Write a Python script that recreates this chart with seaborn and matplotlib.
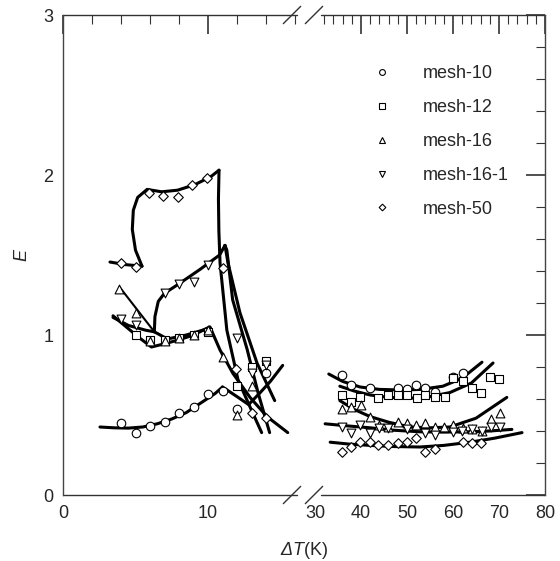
import numpy as np
import pandas as pd
import seaborn as sns
import matplotlib.pyplot as plt
from matplotlib.lines import Line2D

# --- punti sperimentali (x = Delta T in K, y = E) ---
series = ["mesh-10", "mesh-12", "mesh-16", "mesh-16-1", "mesh-50"]
markers = {"mesh-10": "o", "mesh-12": "s", "mesh-16": "^", "mesh-16-1": "v", "mesh-50": "D"}
msize = {"mesh-10": 38, "mesh-12": 26, "mesh-16": 40, "mesh-16-1": 40, "mesh-50": 24}

m10_x = [4.0, 5.0, 6.0, 7.0, 8.0, 9.0, 10.0, 11.0, 12.0, 14.0,
         35.9, 37.8, 42, 48, 50, 52, 53.9, 56.1, 60, 62.2]
m10_y = [0.45, 0.39, 0.43, 0.455, 0.51, 0.55, 0.63, 0.65, 0.54, 0.76,
         0.75, 0.69, 0.67, 0.67, 0.66, 0.69, 0.67, 0.645, 0.74, 0.76]

m12_x = [5.0, 6.0, 7.0, 8.0, 9.0, 10.0, 12.0, 13.0, 14.0,
         35.9, 37.8, 39.8, 43.7, 45.9, 48, 50, 52.2, 53.9, 56.1, 58.3, 60, 62.2, 64.1, 66.1, 68, 70]
m12_y = [1.0, 0.97, 0.97, 0.98, 1.0, 1.02, 0.68, 0.8, 0.84,
         0.625, 0.58, 0.61, 0.605, 0.625, 0.625, 0.625, 0.605, 0.625, 0.615, 0.61, 0.73, 0.71, 0.67, 0.64, 0.74, 0.725]

m16_x = [3.86, 5.0, 6.0, 7.0, 8.0, 9.0, 10.0, 11.0, 12.0, 13.0,
         35.9, 37.8, 40, 42, 44, 45.9, 48, 50, 52, 53.9, 56.1, 58, 60, 62.2, 64.1, 66.3, 68.3, 70.2]
m16_y = [1.29, 1.14, 0.96, 0.96, 0.98, 1.0, 1.03, 0.86, 0.5, 0.68,
         0.54, 0.55, 0.56, 0.49, 0.44, 0.425, 0.455, 0.45, 0.44, 0.45, 0.425, 0.425, 0.44, 0.42, 0.41, 0.4, 0.475, 0.51]

m161_x = [4.0, 5.0, 7.0, 8.0, 9.0, 10.0, 12.0, 13.0, 14.0,
          35.9, 37.8, 39.8, 42, 44, 45.9, 50, 54, 56.1, 60, 62, 64.1, 66.3, 68.3, 70.2]
m161_y = [1.1, 1.06, 1.26, 1.32, 1.33, 1.44, 0.98, 0.76, 0.81,
          0.425, 0.39, 0.44, 0.39, 0.42, 0.42, 0.41, 0.39, 0.375, 0.395, 0.4, 0.41, 0.4, 0.425, 0.425]

m50_x = [4.0, 5.0, 5.93, 6.9, 7.93, 8.9, 9.93, 11.0, 11.9, 13.0, 14.0,
         35.9, 37.8, 39.8, 42, 43.7, 45.9, 48, 50, 52, 53.9, 56.1, 62.2, 64.1, 66.1]
m50_y = [1.45, 1.425, 1.89, 1.87, 1.86, 1.94, 1.98, 1.42, 0.79, 0.51, 0.48,
         0.27, 0.3, 0.33, 0.33, 0.31, 0.31, 0.325, 0.33, 0.355, 0.27, 0.29, 0.33, 0.325, 0.325]

# --- curve (tratti) ---
curves = {
    "c10_a": ([2.55, 3.5, 4.5, 5.5, 6.5, 7.5, 8.5, 9.5, 10.5, 11.0],
              [0.425, 0.42, 0.418, 0.425, 0.445, 0.475, 0.515, 0.575, 0.635, 0.675]),
    "c10_b": ([11.0, 12.0, 12.8, 13.6, 14.3, 15.15],
              [0.675, 0.615, 0.565, 0.64, 0.71, 0.81]),
    "c12_a": ([3.45, 4.5, 5.3, 6.1, 7.0, 8.0, 9.0, 10.1],
              [1.12, 1.04, 0.98, 0.925, 0.945, 0.97, 1.0, 1.05]),
    "c12_b": ([10.14, 10.83, 11.72, 12.9, 14.07, 15.5],
              [1.05, 0.906, 0.76, 0.61, 0.49, 0.39]),
    "c16_b": ([6.3, 7.2, 8.5, 10.0],
              [1.02, 0.975, 1.0, 1.04]),
    "c161_a": ([3.45, 4.5, 5.7, 6.3],
               [1.11, 1.06, 1.03, 1.02]),
    "c161_b": ([6.3, 6.34, 6.57, 6.99, 8.0, 9.45, 10.8, 11.17],
               [1.02, 1.115, 1.21, 1.26, 1.32, 1.41, 1.5, 1.56]),
    "c161_c": ([11.17, 11.3, 11.7, 12.7, 13.45, 14.25],
               [1.56, 1.53, 1.22, 0.91, 0.64, 0.39]),
    "c161_d": ([11.17, 11.38, 12.2, 13.38, 14.6],
               [1.56, 1.45, 1.14, 0.825, 0.59]),
    "c50_a": ([3.24, 4.3, 5.45],
              [1.456, 1.44, 1.43]),
    "c50_b": ([5.45, 5.0, 4.78, 4.85, 5.15, 5.8, 6.8, 7.9, 9.1, 10.2, 10.76],
              [1.43, 1.53, 1.66, 1.78, 1.86, 1.91, 1.895, 1.905, 1.94, 1.99, 2.03]),
    "c50_c": ([10.76, 10.72, 10.75, 10.83, 11.3, 12.07, 12.9, 13.7],
              [2.03, 1.85, 1.65, 1.45, 1.03, 0.72, 0.55, 0.39]),
    "c10_r": ([33.0, 36, 39.8, 44, 49.1, 53, 57.8, 62, 66.3],
              [0.756, 0.71, 0.675, 0.66, 0.656, 0.66, 0.68, 0.73, 0.83]),
    "c12_r": ([35.4, 38.5, 42, 46, 50.7, 55, 59.3, 64, 68.7],
              [0.68, 0.65, 0.625, 0.61, 0.605, 0.615, 0.64, 0.7, 0.825]),
    "c16_r": ([35.4, 38.5, 42, 46, 50.7, 55, 59.3, 65, 71.7],
              [0.59, 0.535, 0.49, 0.455, 0.425, 0.42, 0.425, 0.48, 0.61]),
    "c161_r": ([32.2, 37, 42, 47, 52.8, 58, 63.7, 68, 72.8],
               [0.445, 0.432, 0.42, 0.405, 0.395, 0.393, 0.395, 0.4, 0.41]),
    "c50_r": ([33.3, 37.5, 42, 47, 52.8, 58, 63.7, 69, 75],
              [0.33, 0.318, 0.31, 0.303, 0.3, 0.31, 0.33, 0.355, 0.39]),
}
# tratto sottile di mesh-16
thin_x = [3.9, 6.3]
thin_y = [1.3, 1.02]

x_major = [0, 10, 30, 40, 50, 60, 70, 80]
x_minor = list(range(2, 17, 2)) + list(range(32, 80, 2))


# asse x spezzato: 0-16 largo, 30-80 compresso
def fwd(x):
    x = np.asarray(x, dtype=float)
    return np.where(x <= 16, 14.5 * x,
                    np.where(x < 30, 232 + (x - 16) * (20 / 14), 252 + 4.6 * (x - 30)))


def inv(u):
    u = np.asarray(u, dtype=float)
    return np.where(u <= 232, u / 14.5,
                    np.where(u < 252, 16 + (u - 232) * 14 / 20, 30 + (u - 252) / 4.6))


def main():
    sns.set_theme(style="white")
    plt.rcParams['font.family'] = ['Liberation Sans', 'DejaVu Sans']
    plt.rcParams['mathtext.fontset'] = 'custom'
    plt.rcParams['mathtext.rm'] = 'Liberation Sans'
    plt.rcParams['mathtext.sf'] = 'Liberation Sans:italic'

    fig = plt.figure(figsize=(5.6, 5.61), dpi=100)
    ax = fig.add_axes([63 / 560, 66 / 561, 482 / 560, 480 / 561])
    ax.set_xscale('function', functions=(fwd, inv))

    # curve
    rows = []
    for name, (xs, ys) in curves.items():
        for xv, yv in zip(xs, ys):
            rows.append((name, xv, yv))
    df_c = pd.DataFrame(rows, columns=["seg", "x", "y"])
    sns.lineplot(data=df_c, x="x", y="y", units="seg", estimator=None, sort=False,
                 color="black", linewidth=2.2, ax=ax, legend=False)
    sns.lineplot(x=thin_x, y=thin_y, sort=False, color="black", linewidth=1.5, ax=ax)

    # punti
    pts = {"mesh-10": (m10_x, m10_y), "mesh-12": (m12_x, m12_y), "mesh-16": (m16_x, m16_y),
           "mesh-16-1": (m161_x, m161_y), "mesh-50": (m50_x, m50_y)}
    for s in series:
        xs, ys = pts[s]
        sns.scatterplot(x=xs, y=ys, marker=markers[s], s=msize[s], color="white",
                        edgecolor="black", linewidth=0.8, ax=ax, zorder=3, legend=False)

    ax.set_xlim(0, 80)
    ax.set_ylim(0, 3)
    ax.set_xticks(x_major)
    ax.set_xticks(x_minor, minor=True)
    ax.set_xticklabels([str(v) for v in x_major])
    ax.set_yticks([0, 1, 2, 3])
    ax.set_yticks(np.arange(0.2, 3.0, 0.2), minor=True)
    ax.set_yticklabels(["0", "1", "2", "3"])

    ax.tick_params(which="both", direction="in", top=True, right=True, color="#333",
                   labelsize=13, pad=7)
    ax.tick_params(which="major", length=14, width=1.2)
    ax.tick_params(which="minor", length=6.5, width=0.8)
    t30 = ax.xaxis.get_major_ticks()[2]
    t30.tick1line.set_visible(False)
    t30.tick2line.set_visible(False)

    for side in ["left", "right"]:
        ax.spines[side].set_color("#444")
        ax.spines[side].set_linewidth(1.0)
    ax.spines["top"].set_visible(False)
    ax.spines["bottom"].set_visible(False)

    # assi spezzati con doppia barra
    kw = dict(transform=ax.transAxes, color="#333", lw=1.0, clip_on=False)
    f1, f2, f3 = (297 - 63) / 482, (321 - 63) / 482, 1.0
    for yy in (0, 1):
        ax.plot([0, f1], [yy, yy], **kw)
        ax.plot([f2, f3], [yy, yy], **kw)
        for c in ((292 - 63) / 482, (314 - 63) / 482):
            ax.plot([c - 0.018, c + 0.018], [yy - 0.018, yy + 0.018], **kw)

    ax.set_xlabel(r"$\mathsf{\Delta T}$(K)", fontsize=13, labelpad=13)
    ax.set_ylabel("E", fontsize=13, fontstyle="italic", labelpad=9)

    handles = [Line2D([], [], marker=markers[s], linestyle="none", markersize=4.2 if markers[s] != "D" else 3.4,
                      markerfacecolor="white", markeredgecolor="black", markeredgewidth=0.8)
               for s in series]
    ax.legend(handles=handles, labels=series, loc="upper left", bbox_to_anchor=(0.643, 0.896),
              frameon=False, handlelength=1.0, handletextpad=1.75, labelspacing=0.94,
              borderpad=0, borderaxespad=0, fontsize=13)

    fig.savefig("out.png", dpi=100)
    plt.close(fig)


if __name__ == "__main__":
    main()
